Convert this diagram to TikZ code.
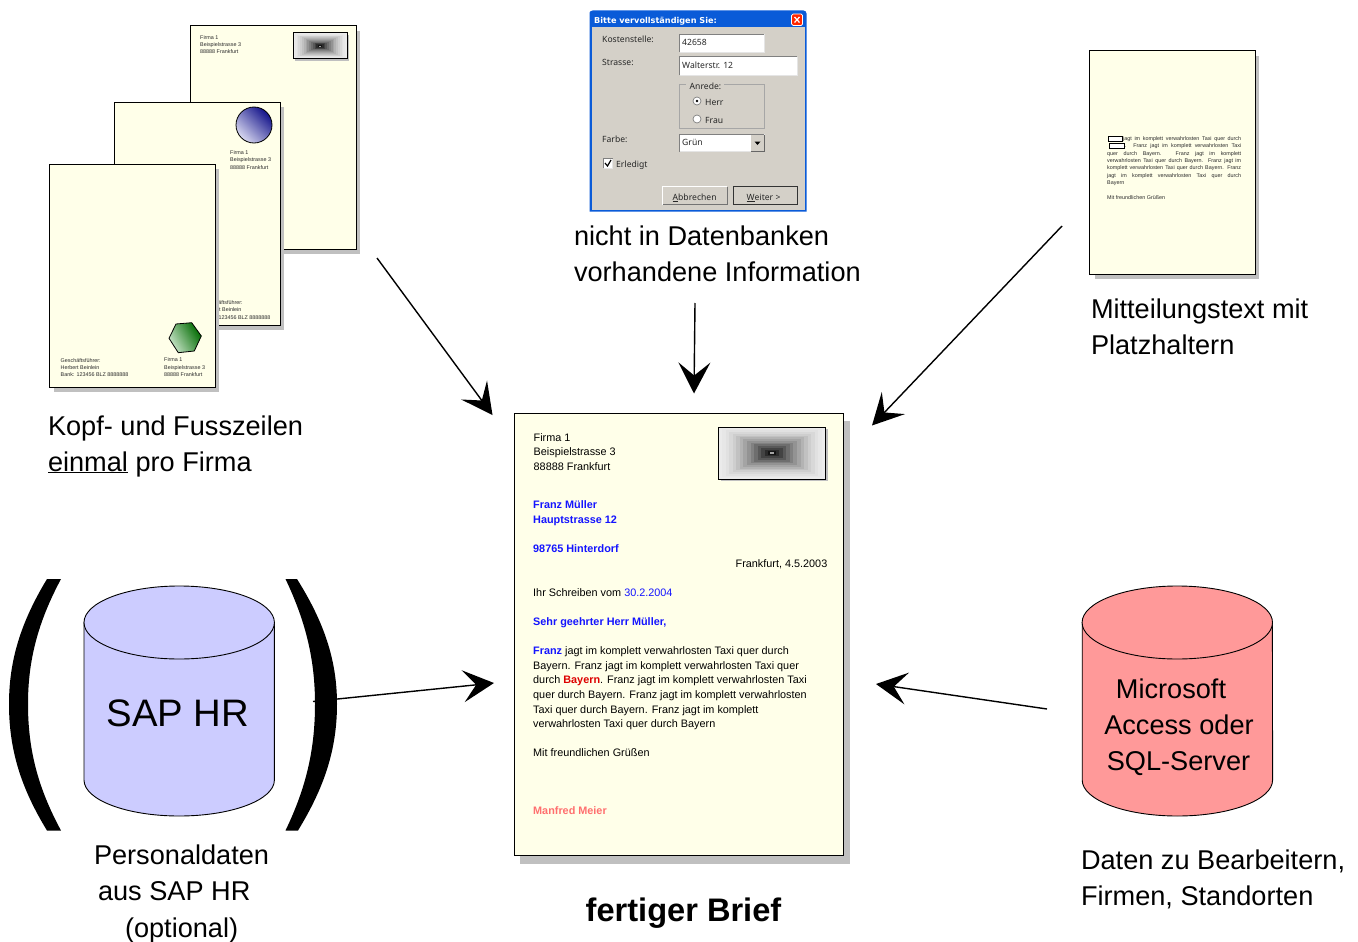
\documentclass[tikz,border=0pt]{standalone}
\usepackage{fontspec}
\setmainfont{Liberation Sans}
\newfontfamily\uifont{Noto Sans}
\newfontfamily\titlefont{DejaVu Sans}
\usetikzlibrary{arrows.meta}
\definecolor{paper}{HTML}{FFFFE9}
\definecolor{shadowgrey}{HTML}{C0C0C0}
\definecolor{uigrey}{HTML}{D4D0C8}
\definecolor{xpblue}{HTML}{0A5BD8}
\definecolor{fieldedge}{HTML}{808080}
\definecolor{sapblue}{HTML}{CCCCFF}
\definecolor{dbred}{HTML}{FF9999}
\definecolor{mergeblue}{HTML}{1414FF}
\definecolor{mergered}{HTML}{DD0000}
\definecolor{mergepink}{HTML}{FF6F6F}
\definecolor{tinygrey}{HTML}{2A2A2A}
\definecolor{circdark}{HTML}{14148A}
\definecolor{circlight}{HTML}{D8D8F0}
\definecolor{hexdark}{HTML}{006A00}
\definecolor{hexmid}{HTML}{2E8F2E}
\definecolor{hexlight}{HTML}{C8E4C8}
\newcounter{tx}
\tikzset{
  sheet/.style={draw=black,line width=1pt,fill=paper},
  sheetshadow/.style={fill=shadowgrey,draw=none},
  biglabel/.style={font=\fontsize{27.15}{36}\selectfont,anchor=base west,inner sep=0pt,outer sep=0pt},
  dbtext/.style={font=\fontsize{27.15}{36}\selectfont,anchor=base,inner sep=0pt},
  lettertext/.style={font=\fontsize{10.85}{14}\selectfont,anchor=base west,inner sep=0pt},
  boldletter/.style={lettertext,font=\fontsize{10.85}{14}\bfseries\selectfont},
  tinytext/.style={font=\fontsize{5.4}{7}\selectfont,anchor=base west,inner sep=0pt,text=tinygrey},
  uitext/.style={font=\uifont\fontsize{8.6}{10}\selectfont,anchor=base west,inner sep=0pt,text=black!85},
  flow/.style={line width=1.4pt,-{Stealth[length=31pt,width=32pt,inset=13pt]}},
  dbcyl/.style={draw=black,line width=.9pt},
}
\newcommand\pagesheet[4]{%
  \fill[sheetshadow] (#1+5,#2+5) rectangle (#3+3.5,#4+4.5);
  \draw[sheet] (#1,#2) rectangle (#3,#4);}
\newcommand\tline[4]{\stepcounter{tx}\node[#1] (t\thetx) at (#2,#3) {#4};}
\newcommand\uifield[4]{%
  \fill[white] (#1,#2) rectangle (#3,#4);
  \draw[fieldedge,line width=1pt] (#1,#4) -- (#1,#2) -- (#3,#2);
  \draw[black!10,line width=.8pt] (#1,#4) -- (#3,#4) -- (#3,#2);}
\newcommand\uibutton[5]{%
  \fill[uigrey] (#1,#2) rectangle (#3,#4);
  \draw[white,line width=.9pt] (#1,#4) -- (#1,#2) -- (#3,#2);
  \draw[#5] (#1,#4) -- (#3,#4) -- (#3,#2);}
\newcommand\logo[4]{%
  \fill[shadowgrey] ({#1-#3/2+2},{#2-#4/2+2}) rectangle ({#1+#3/2+2},{#2+#4/2+2});
  \fill[black!6] ({#1-#3/2},{#2-#4/2}) rectangle ({#1+#3/2},{#2+#4/2});
  \foreach \i in {0,...,14}{%
    \pgfmathsetmacro\ww{#3/2*(1-\i/15)}%
    \pgfmathsetmacro\hh{#4/2*(1-\i/15)}%
    \pgfmathsetmacro\pp{min(100,8+84*(\i/14)^1.6)}%
    \fill[black!\pp!white] ({#1-\ww},{#2-\hh}) rectangle ({#1+\ww},{#2+\hh});
  }%
  \fill[black!35] ({#1-#3/50},{#2-#4/80}) rectangle ({#1+#3/50},{#2+#4/80});
  \draw[black,line width=1pt] ({#1-#3/2},{#2-#4/2}) rectangle ({#1+#3/2},{#2+#4/2});}
\newcommand\database[3]{%
  \draw[dbcyl,fill=#3] (#1,622.5) -- (#1,780) arc[start angle=180,end angle=0,x radius=95.2,y radius=36] -- (#2,622.5) -- cycle;
  \draw[dbcyl,fill=#3] ({(#1+#2)/2},622.5) ellipse[x radius=95.2,y radius=36.5];}
\begin{document}
\begin{tikzpicture}[x=1pt,y=-1pt]
\useasboundingbox (0,0) rectangle (1358,942);

% --- three template sheets
\pagesheet{190.5}{26}{356.5}{249.5}
\logo{320}{46}{54}{26}
\tline{tinytext}{200}{40}{Firma 1}
\tline{tinytext}{200}{47}{Beispielstrasse 3}
\tline{tinytext}{200}{54}{88888 Frankfurt}

\pagesheet{114.5}{102}{280.5}{325.5}
\shade[top color=circdark,bottom color=circlight,shading angle=-45] (254,125) circle[radius=18];
\draw[black,line width=.8pt] (254,125) circle[radius=18];
\tline{tinytext}{230}{154}{Firma 1}
\tline{tinytext}{230}{161}{Beispielstrasse 3}
\tline{tinytext}{230}{169}{88888 Frankfurt}
\tline{tinytext}{202.5}{304}{Geschäftsführer:}
\tline{tinytext}{202.5}{311}{Herbert Beinlein}
\tline{tinytext}{202.5}{319}{Bank: 123456 BLZ 8888888}

\pagesheet{49}{164}{215}{387.5}
\shade[top color=hexdark,middle color=hexmid,bottom color=hexlight,shading angle=-60]
  (169,338.3) -- (176,324) -- (191.7,322.7) -- (201.3,336) -- (194.3,351) -- (178.3,352.7) -- cycle;
\draw[black,line width=.8pt] (169,338.3) -- (176,324) -- (191.7,322.7) -- (201.3,336) -- (194.3,351) -- (178.3,352.7) -- cycle;
\tline{tinytext}{164}{361}{Firma 1}
\tline{tinytext}{164}{369}{Beispielstrasse 3}
\tline{tinytext}{164}{376}{88888 Frankfurt}
\tline{tinytext}{60.5}{362}{Geschäftsführer:}
\tline{tinytext}{60.5}{369}{Herbert Beinlein}
\tline{tinytext}{60.5}{376}{Bank: 123456 BLZ 8888888}

\tline{biglabel}{48}{435}{Kopf- und Fusszeilen}
\tline{biglabel}{48}{471}{\underline{einmal} pro Firma}

% --- dialog
\fill[xpblue] (589.5,12) [rounded corners=3pt] -- (589.5,10.5) -- (806.5,10.5) [sharp corners] -- (806.5,211.5) -- (589.5,211.5) -- cycle;
\fill[uigrey] (591.5,27.5) rectangle (804.5,209.5);
\tline{font=\titlefont\bfseries\fontsize{8.15}{10}\selectfont,anchor=base west,inner sep=0pt,text=white}{594}{23.5}{Bitte vervollständigen Sie:}
\fill[red!70!orange,draw=white,line width=.7pt,rounded corners=1.5pt] (791.5,14) rectangle (802.5,25.5);
\draw[white,line width=1.2pt] (794.5,17) -- (799.5,22.5) (799.5,17) -- (794.5,22.5);
\tline{uitext}{602}{43}{Kostenstelle:}
\tline{uitext}{602}{66}{Strasse:}
\tline{uitext}{602}{142}{Farbe:}
\uifield{679.5}{34.5}{764.5}{52}
\tline{uitext}{682}{46}{42658}
\uifield{679.5}{57}{797}{75.5}
\tline{uitext}{682}{69}{Walterstr. 12}
\draw[fieldedge!70,line width=.9pt] (679.5,84) rectangle (764.5,128);
\fill[uigrey] (686,80) rectangle (724,90);
\tline{uitext}{689.5}{89}{Anrede:}
\draw[fieldedge,fill=white,line width=.7pt] (697,101) circle[radius=4];
\fill[black] (697,101) circle[radius=1.4];
\tline{uitext}{705}{106}{Herr}
\draw[fieldedge,fill=white,line width=.7pt] (697,119) circle[radius=4];
\tline{uitext}{705}{123}{Frau}
\uifield{679.5}{134}{764.5}{151.5}
\tline{uitext}{682}{145}{Grün}
\fill[uigrey] (751,135) rectangle (764,151);
\draw[black!60,line width=.7pt] (751,151) -- (764,151) -- (764,135);
\fill[black] (754.5,141.5) -- (760.5,141.5) -- (757.5,145) -- cycle;
\uifield{603.5}{158.5}{612.5}{168}
\draw[black,line width=1.2pt] (605,163) -- (607.5,166) -- (611,160);
\tline{uitext}{616}{167}{Erledigt}
\uibutton{662.5}{186.5}{727}{204.5}{black!55,line width=1pt}
\tline{uitext}{672.5}{200}{\underline{A}bbrechen}
\draw[black!80,line width=1pt] (733,186.5) rectangle (797,204.5);
\tline{uitext}{746.5}{200}{\underline{W}eiter >}

\tline{biglabel}{574}{245}{nicht in Datenbanken}
\tline{biglabel}{574}{281}{vorhandene Information}

% --- text template
\pagesheet{1089.5}{51}{1255.5}{274.5}
\draw[black,fill=white,line width=.7pt] (1108.5,136) rectangle (1122.5,141);
\draw[black,fill=white,line width=.7pt] (1109,143) rectangle (1124,148);
\tline{tinytext}{1123}{140}{\makebox[118pt][s]{jagt im komplett verwahrlosten Taxi quer durch}}
\tline{tinytext}{1124.5}{147}{\makebox[116.5pt][s]{. Franz jagt im komplett verwahrlosten Taxi}}
\tline{tinytext}{1107}{155}{\makebox[134pt][s]{quer durch Bayern. Franz jagt im komplett}}
\tline{tinytext}{1107}{162}{\makebox[134pt][s]{verwahrlosten Taxi quer durch Bayern. Franz jagt im}}
\tline{tinytext}{1107}{169}{\makebox[134pt][s]{komplett verwahrlosten Taxi quer durch Bayern. Franz}}
\tline{tinytext}{1107}{177}{\makebox[134pt][s]{jagt im komplett verwahrlosten Taxi quer durch}}
\tline{tinytext}{1107}{184}{Bayern}
\tline{tinytext}{1107}{199}{Mit freundlichen Grüßen}

\tline{biglabel}{1091}{318}{Mitteilungstext mit}
\tline{biglabel}{1091}{354}{Platzhaltern}

% --- finished letter
\fill[sheetshadow] (520,421) rectangle (850,864);
\draw[sheet] (514.5,413) rectangle (843.5,855.5);
\logo{772}{453}{107}{52}
\tline{lettertext}{533.5}{441}{Firma 1}
\tline{lettertext}{533.5}{455}{Beispielstrasse 3}
\tline{lettertext}{533.5}{470}{88888 Frankfurt}
\tline{boldletter,text=mergeblue}{533}{508}{Franz Müller}
\tline{boldletter,text=mergeblue}{533}{523}{Hauptstrasse 12}
\tline{boldletter,text=mergeblue}{533}{552}{98765 Hinterdorf}
\tline{lettertext,anchor=base east}{827.5}{567}{Frankfurt, 4.5.2003}
\tline{lettertext}{533}{596}{Ihr Schreiben vom \textcolor{mergeblue}{30.2.2004}}
\tline{boldletter,text=mergeblue}{533}{625}{Sehr geehrter Herr Müller,}
\tline{lettertext}{533}{654}{\textcolor{mergeblue}{\bfseries Franz} jagt im komplett verwahrlosten Taxi quer durch}
\tline{lettertext}{533}{669}{Bayern. Franz jagt im komplett verwahrlosten Taxi quer}
\tline{lettertext}{533}{683}{durch \textcolor{mergered}{\bfseries Bayern}. Franz jagt im komplett verwahrlosten Taxi}
\tline{lettertext}{533}{698}{quer durch Bayern. Franz jagt im komplett verwahrlosten}
\tline{lettertext}{533}{713}{Taxi quer durch Bayern. Franz jagt im komplett}
\tline{lettertext}{533}{727}{verwahrlosten Taxi quer durch Bayern}
\tline{lettertext}{533}{756}{Mit freundlichen Grüßen}
\tline{boldletter,text=mergepink}{533}{814}{Manfred Meier}
\node[font=\fontsize{32.6}{38}\bfseries\selectfont,anchor=base,inner sep=0pt] (brieflabel) at (683.5,921) {fertiger Brief};

% --- SAP HR database in parentheses
\database{84}{274.4}{sapblue}
\node[font=\fontsize{38.3}{44}\selectfont,anchor=base,inner sep=0pt] (saplabel) at (177.8,726) {SAP HR};
\fill[black] (47,579) .. controls (21,622) and (9,660) .. (9,704) .. controls (9,750) and (21,788) .. (47,830.5) -- (61,830.5) .. controls (38,788) and (28,750) .. (28,704) .. controls (28,660) and (38,622) .. (61,579) -- cycle;
\fill[black] (297,579) .. controls (324,622) and (337,660) .. (337,704) .. controls (337,750) and (324,788) .. (298,830.5) -- (285.5,830.5) .. controls (306,788) and (315,750) .. (315,704) .. controls (315,660) and (306,622) .. (285.5,579) -- cycle;
\tline{biglabel}{94}{864}{Personaldaten}
\tline{biglabel}{98}{900}{aus SAP HR}
\tline{biglabel}{125}{937}{(optional)}

% --- access / SQL database
\database{1082.2}{1272.4}{dbred}
\node[dbtext] (db1) at (1171,698) {Microsoft};
\node[dbtext] (db2) at (1179,734) {Access oder};
\node[dbtext] (db3) at (1178.5,770) {SQL-Server};
\tline{biglabel}{1081}{869}{Daten zu Bearbeitern,}
\tline{biglabel}{1081}{905}{Firmen, Standorten}

% --- connectors
\coordinate (fromtemplates) at (377,258);
\coordinate (intotemplates) at (492.5,415);
\coordinate (fromdialog) at (695,303);
\coordinate (intodialog) at (694,393.5);
\coordinate (fromtext) at (1062,226);
\coordinate (intotext) at (872,425.5);
\coordinate (fromsap) at (313,701.5);
\coordinate (intosap) at (494,683);
\coordinate (fromdb) at (1047,709);
\coordinate (intodb) at (876,684);
\draw[flow] (fromtemplates) -- (intotemplates);
\draw[flow] (fromdialog) -- (intodialog);
\draw[flow] (fromtext) -- (intotext);
\draw[flow] (fromsap) -- (intosap);
\draw[flow] (fromdb) -- (intodb);
\end{tikzpicture}
\end{document}
